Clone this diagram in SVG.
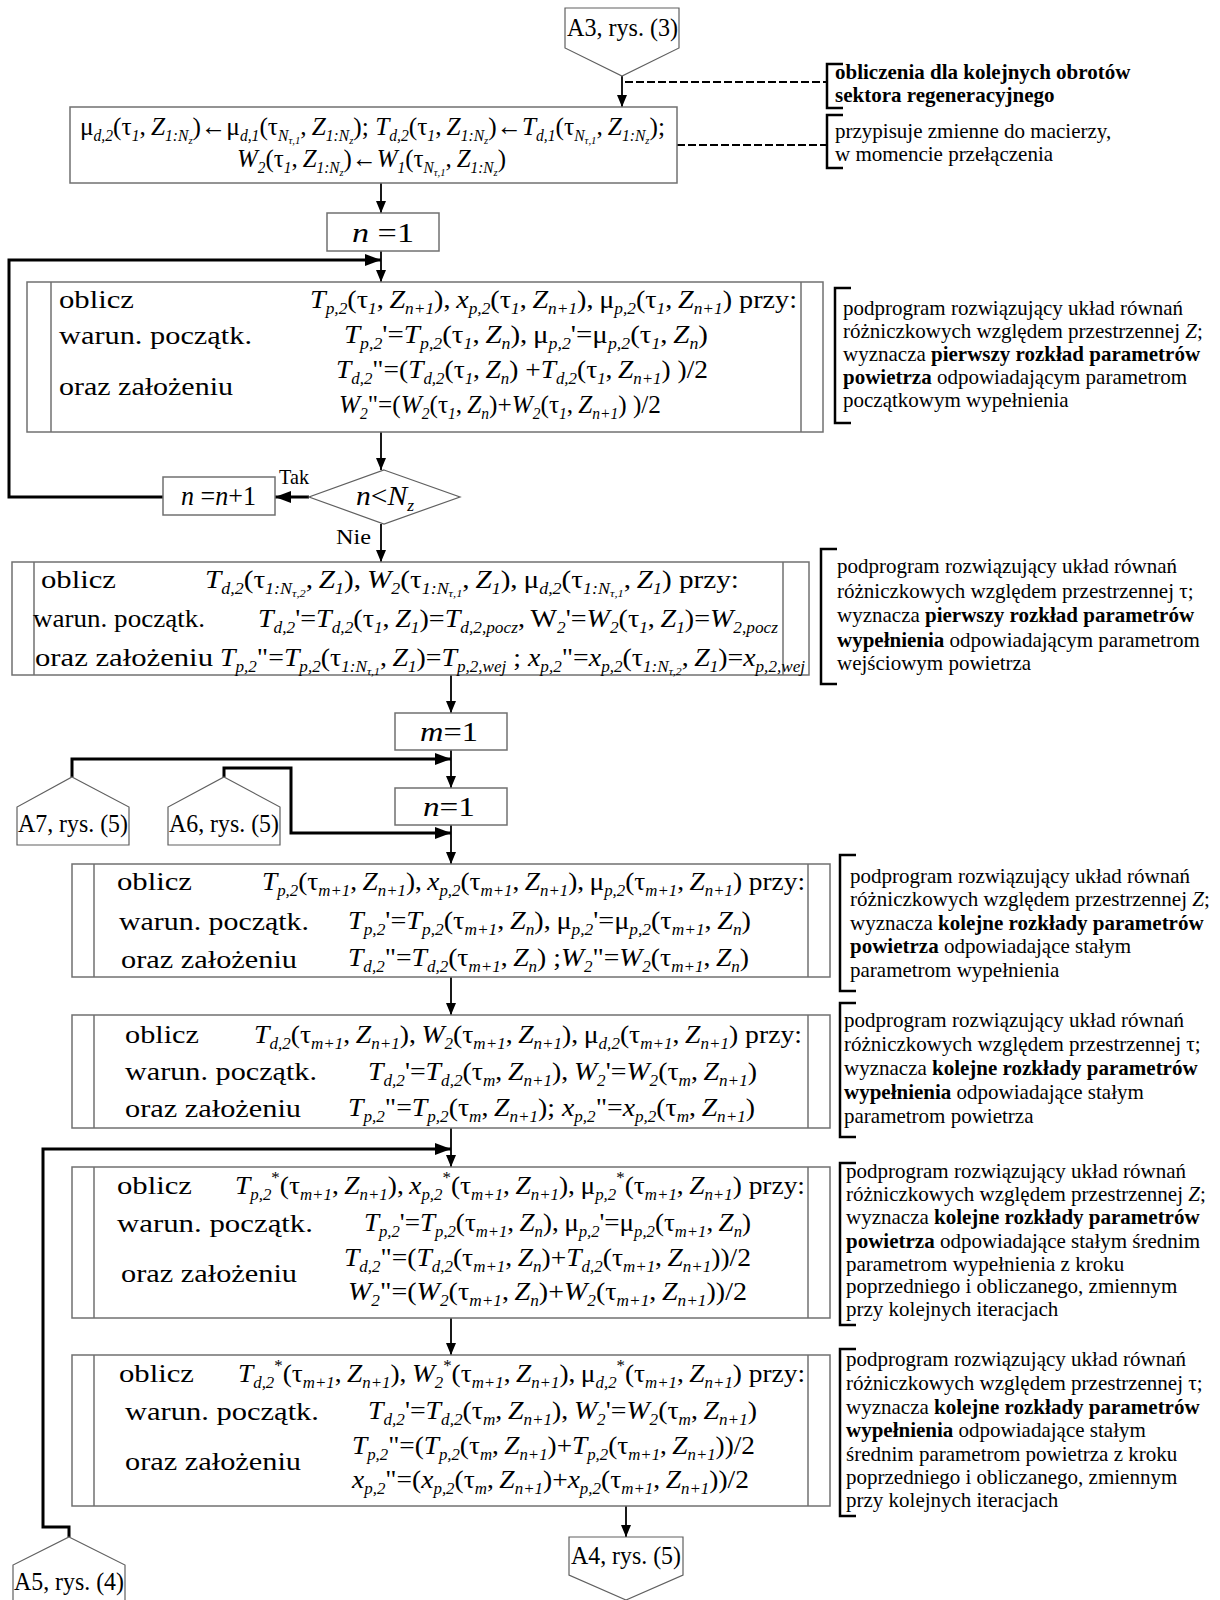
<svg xmlns="http://www.w3.org/2000/svg" width="1220" height="1600" viewBox="0 0 1220 1600">
<style>
.t{font-family:"Liberation Serif","Times New Roman",serif;font-size:26px;fill:#000}
.a{font-family:"Liberation Serif","Times New Roman",serif;font-size:21px;fill:#000}
.g{font-weight:bold}
.i{font-style:italic}
.b{font-size:16px;font-style:italic;baseline-shift:-6px}
.c{font-size:11px;baseline-shift:-3px}
.p{font-size:16px;baseline-shift:11px}
.box{fill:#fff;stroke:#707070;stroke-width:1.5}
.cn{fill:#fff;stroke:#606060;stroke-width:1.2}
.ln{fill:none;stroke:#000;stroke-width:1.8}
.tk{fill:none;stroke:#000;stroke-width:3}
.br{fill:none;stroke:#000;stroke-width:2.5}
.ds{fill:none;stroke:#000;stroke-width:2;stroke-dasharray:8 3}
</style>
<defs>
<marker id="ah" markerUnits="userSpaceOnUse" markerWidth="12" markerHeight="10" refX="12" refY="5" orient="auto"><path d="M0,0 L12,5 L0,10 z" fill="#000"/></marker>
<marker id="ah2" markerUnits="userSpaceOnUse" markerWidth="16" markerHeight="12" refX="16" refY="6" orient="auto"><path d="M0,0 L16,6 L0,12 z" fill="#000"/></marker>
</defs>
<rect width="1220" height="1600" fill="#fff"/>

<g id="connectors">
<line class="ln" x1="622" y1="76" x2="622" y2="107" marker-end="url(#ah)"/>
<line class="ds" x1="625" y1="82" x2="827" y2="82"/>
<line class="ds" x1="677" y1="145" x2="827" y2="145"/>
<line class="ln" x1="381" y1="183" x2="381" y2="213" marker-end="url(#ah)"/>
<line class="ln" x1="381" y1="251" x2="381" y2="282" marker-end="url(#ah)"/>
<path class="tk" d="M163,497 H9 V260 H381" marker-end="url(#ah2)"/>
<line class="ln" x1="381" y1="432" x2="381" y2="470" marker-end="url(#ah)"/>
<line class="tk" x1="309" y1="497" x2="275" y2="497" marker-end="url(#ah2)"/>
<line class="ln" x1="381" y1="524" x2="381" y2="562" marker-end="url(#ah)"/>
<line class="ln" x1="451" y1="675" x2="451" y2="713" marker-end="url(#ah)"/>
<line class="ln" x1="451" y1="750" x2="451" y2="788" marker-end="url(#ah)"/>
<path class="tk" d="M72,777 V759 H451" marker-end="url(#ah2)"/>
<path class="tk" d="M224,777 V768 H291 V833 H451" marker-end="url(#ah2)"/>
<line class="ln" x1="451" y1="825" x2="451" y2="864" marker-end="url(#ah)"/>
<line class="ln" x1="451" y1="977" x2="451" y2="1015" marker-end="url(#ah)"/>
<line class="ln" x1="451" y1="1128" x2="451" y2="1167" marker-end="url(#ah)"/>
<path class="tk" d="M69,1537 V1527 H43 V1149 H451" marker-end="url(#ah2)"/>
<line class="ln" x1="451" y1="1318" x2="451" y2="1355" marker-end="url(#ah)"/>
<line class="ln" x1="626" y1="1506" x2="626" y2="1537" marker-end="url(#ah)"/>
</g>

<g id="A3">
<polygon class="cn" points="565,8 679,8 679,48 622,76 565,48"/>
<text class="t" x="567" y="36" style="font-size:25px" textLength="111" lengthAdjust="spacingAndGlyphs">A3, rys. (3)</text>
</g>

<g id="note1">
<path class="br" d="M843,64 H827 V108 H843"/>
<text class="a g" x="835" y="79">obliczenia dla kolejnych obrotów</text>
<text class="a g" x="835" y="102">sektora regeneracyjnego</text>
</g>

<g id="note2">
<path class="br" d="M843,115 H827 V168 H843"/>
<text class="a" x="835" y="138">przypisuje zmienne do macierzy,</text>
<text class="a" x="835" y="161">w momencie przełączenia</text>
</g>

<g id="box1">
<rect class="box" x="70" y="107" width="607" height="76"/>
<text class="t" x="80" y="135" textLength="585" lengthAdjust="spacingAndGlyphs">μ<tspan class="b">d,2</tspan>(τ<tspan class="b">1</tspan>,&#8201;<tspan class="i">Z</tspan><tspan class="b">1:N<tspan class="c">z</tspan></tspan>)←μ<tspan class="b">d,1</tspan>(τ<tspan class="b">N<tspan class="c">τ,1</tspan></tspan>,&#8201;<tspan class="i">Z</tspan><tspan class="b">1:N<tspan class="c">z</tspan></tspan>); <tspan class="i">T</tspan><tspan class="b">d,2</tspan>(τ<tspan class="b">1</tspan>,&#8201;<tspan class="i">Z</tspan><tspan class="b">1:N<tspan class="c">z</tspan></tspan>)←<tspan class="i">T</tspan><tspan class="b">d,1</tspan>(τ<tspan class="b">N<tspan class="c">τ,1</tspan></tspan>,&#8201;<tspan class="i">Z</tspan><tspan class="b">1:N<tspan class="c">z</tspan></tspan>);</text>
<text class="t" x="237" y="167" textLength="269" lengthAdjust="spacingAndGlyphs"><tspan class="i">W</tspan><tspan class="b">2</tspan>(τ<tspan class="b">1</tspan>,&#8201;<tspan class="i">Z</tspan><tspan class="b">1:N<tspan class="c">z</tspan></tspan>)←<tspan class="i">W</tspan><tspan class="b">1</tspan>(τ<tspan class="b">N<tspan class="c">τ,1</tspan></tspan>,&#8201;<tspan class="i">Z</tspan><tspan class="b">1:N<tspan class="c">z</tspan></tspan>)</text>
</g>

<g id="n1a">
<rect class="box" x="327" y="213" width="112" height="38"/>
<text class="t" x="352" y="242" style="font-size:27px" textLength="62" lengthAdjust="spacingAndGlyphs"><tspan class="i">n</tspan> =1</text>
</g>

<g id="box2">
<rect class="box" x="27" y="282" width="796" height="150"/>
<line class="box" x1="51" y1="282" x2="51" y2="432"/>
<line class="box" x1="801" y1="282" x2="801" y2="432"/>
<text class="t" x="59" y="308" textLength="75" lengthAdjust="spacingAndGlyphs">oblicz</text>
<text class="t" x="59" y="344" textLength="193" lengthAdjust="spacingAndGlyphs">warun. początk.</text>
<text class="t" x="59" y="395" textLength="174" lengthAdjust="spacingAndGlyphs">oraz założeniu</text>
<text class="t" x="310" y="308" textLength="487" lengthAdjust="spacingAndGlyphs"><tspan class="i">T</tspan><tspan class="b">p,2</tspan>(τ<tspan class="b">1</tspan>,&#8201;<tspan class="i">Z</tspan><tspan class="b">n+1</tspan>),&#8201;<tspan class="i">x</tspan><tspan class="b">p,2</tspan>(τ<tspan class="b">1</tspan>,&#8201;<tspan class="i">Z</tspan><tspan class="b">n+1</tspan>),&#8201;μ<tspan class="b">p,2</tspan>(τ<tspan class="b">1</tspan>,&#8201;<tspan class="i">Z</tspan><tspan class="b">n+1</tspan>) przy:</text>
<text class="t" x="344" y="343" textLength="364" lengthAdjust="spacingAndGlyphs"><tspan class="i">T</tspan><tspan class="b">p,2</tspan>'=<tspan class="i">T</tspan><tspan class="b">p,2</tspan>(τ<tspan class="b">1</tspan>,&#8201;<tspan class="i">Z</tspan><tspan class="b">n</tspan>),&#8201;μ<tspan class="b">p,2</tspan>'=μ<tspan class="b">p,2</tspan>(τ<tspan class="b">1</tspan>,&#8201;<tspan class="i">Z</tspan><tspan class="b">n</tspan>)</text>
<text class="t" x="336" y="378" textLength="372" lengthAdjust="spacingAndGlyphs"><tspan class="i">T</tspan><tspan class="b">d,2</tspan>"=(<tspan class="i">T</tspan><tspan class="b">d,2</tspan>(τ<tspan class="b">1</tspan>,&#8201;<tspan class="i">Z</tspan><tspan class="b">n</tspan>) +<tspan class="i">T</tspan><tspan class="b">d,2</tspan>(τ<tspan class="b">1</tspan>,&#8201;<tspan class="i">Z</tspan><tspan class="b">n+1</tspan>) )/2</text>
<text class="t" x="339" y="413" textLength="322" lengthAdjust="spacingAndGlyphs"><tspan class="i">W</tspan><tspan class="b">2</tspan>"=(<tspan class="i">W</tspan><tspan class="b">2</tspan>(τ<tspan class="b">1</tspan>,&#8201;<tspan class="i">Z</tspan><tspan class="b">n</tspan>)+<tspan class="i">W</tspan><tspan class="b">2</tspan>(τ<tspan class="b">1</tspan>,&#8201;<tspan class="i">Z</tspan><tspan class="b">n+1</tspan>) )/2</text>
</g>

<g id="note3">
<path class="br" d="M851,288 H835 V423 H851"/>
<text class="a" x="843" y="315">podprogram rozwiązujący układ równań</text>
<text class="a" x="843" y="338">różniczkowych względem przestrzennej <tspan class="i">Z</tspan>;</text>
<text class="a" x="843" y="361">wyznacza <tspan class="g">pierwszy rozkład parametrów</tspan></text>
<text class="a" x="843" y="384"><tspan class="g">powietrza</tspan> odpowiadającym parametrom</text>
<text class="a" x="843" y="407">początkowym wypełnienia</text>
</g>

<g id="decision">
<polygon class="cn" points="384,470 460,497 384,524 309,497"/>
<text class="t" x="356" y="505" style="font-size:27px" textLength="58" lengthAdjust="spacingAndGlyphs"><tspan class="i">n</tspan>&lt;<tspan class="i">N</tspan><tspan class="b">z</tspan></text>
<text class="t" x="279" y="484" style="font-size:21px" textLength="30" lengthAdjust="spacingAndGlyphs">Tak</text>
<text class="t" x="336" y="544" style="font-size:21px" textLength="35" lengthAdjust="spacingAndGlyphs">Nie</text>
</g>

<g id="nInc">
<rect class="box" x="163" y="477" width="112" height="38"/>
<text class="t" x="181" y="505" style="font-size:27px" textLength="75" lengthAdjust="spacingAndGlyphs"><tspan class="i">n</tspan> =<tspan class="i">n</tspan>+1</text>
</g>

<g id="box3">
<rect class="box" x="12" y="562" width="797" height="113"/>
<line class="box" x1="34" y1="562" x2="34" y2="675"/>
<line class="box" x1="783" y1="562" x2="783" y2="675"/>
<text class="t" x="41" y="588" textLength="75" lengthAdjust="spacingAndGlyphs">oblicz</text>
<text class="t" x="33" y="627" textLength="172" lengthAdjust="spacingAndGlyphs">warun. początk.</text>
<text class="t" x="35" y="666" textLength="178" lengthAdjust="spacingAndGlyphs">oraz założeniu</text>
<text class="t" x="205" y="588" textLength="534" lengthAdjust="spacingAndGlyphs"><tspan class="i">T</tspan><tspan class="b">d,2</tspan>(τ<tspan class="b">1:N<tspan class="c">τ,2</tspan></tspan>,&#8201;<tspan class="i">Z</tspan><tspan class="b">1</tspan>),&#8201;<tspan class="i">W</tspan><tspan class="b">2</tspan>(τ<tspan class="b">1:N<tspan class="c">τ,1</tspan></tspan>,&#8201;<tspan class="i">Z</tspan><tspan class="b">1</tspan>),&#8201;μ<tspan class="b">d,2</tspan>(τ<tspan class="b">1:N<tspan class="c">τ,1</tspan></tspan>,&#8201;<tspan class="i">Z</tspan><tspan class="b">1</tspan>) przy:</text>
<text class="t" x="258" y="627" textLength="520" lengthAdjust="spacingAndGlyphs"><tspan class="i">T</tspan><tspan class="b">d,2</tspan>'=<tspan class="i">T</tspan><tspan class="b">d,2</tspan>(τ<tspan class="b">1</tspan>,&#8201;<tspan class="i">Z</tspan><tspan class="b">1</tspan>)=<tspan class="i">T</tspan><tspan class="b">d,2,pocz</tspan>,&#8201;W<tspan class="b">2</tspan>'=<tspan class="i">W</tspan><tspan class="b">2</tspan>(τ<tspan class="b">1</tspan>,&#8201;<tspan class="i">Z</tspan><tspan class="b">1</tspan>)=<tspan class="i">W</tspan><tspan class="b">2,pocz</tspan></text>
<text class="t" x="220" y="666" textLength="585" lengthAdjust="spacingAndGlyphs"><tspan class="i">T</tspan><tspan class="b">p,2</tspan>"=<tspan class="i">T</tspan><tspan class="b">p,2</tspan>(τ<tspan class="b">1:N<tspan class="c">τ,1</tspan></tspan>,&#8201;<tspan class="i">Z</tspan><tspan class="b">1</tspan>)=<tspan class="i">T</tspan><tspan class="b">p,2,wej</tspan> ; <tspan class="i">x</tspan><tspan class="b">p,2</tspan>"=<tspan class="i">x</tspan><tspan class="b">p,2</tspan>(τ<tspan class="b">1:N<tspan class="c">τ,2</tspan></tspan>,&#8201;<tspan class="i">Z</tspan><tspan class="b">1</tspan>)=<tspan class="i">x</tspan><tspan class="b">p,2,wej</tspan></text>
</g>

<g id="note4">
<path class="br" d="M837,549 H821 V684 H837"/>
<text class="a" x="837" y="573">podprogram rozwiązujący układ równań</text>
<text class="a" x="837" y="598">różniczkowych względem przestrzennej τ;</text>
<text class="a" x="837" y="622">wyznacza <tspan class="g">pierwszy rozkład parametrów</tspan></text>
<text class="a" x="837" y="647"><tspan class="g">wypełnienia</tspan> odpowiadającym parametrom</text>
<text class="a" x="837" y="670">wejściowym powietrza</text>
</g>

<g id="m1">
<rect class="box" x="395" y="713" width="112" height="37"/>
<text class="t" x="420" y="741" style="font-size:27px" textLength="58" lengthAdjust="spacingAndGlyphs"><tspan class="i">m</tspan>=1</text>
</g>

<g id="n1b">
<rect class="box" x="395" y="788" width="112" height="37"/>
<text class="t" x="423" y="816" style="font-size:27px" textLength="52" lengthAdjust="spacingAndGlyphs"><tspan class="i">n</tspan>=1</text>
</g>

<g id="A7">
<polygon class="cn" points="72,777 129,807 129,845 17,845 17,807"/>
<text class="t" x="18" y="832" style="font-size:25px" textLength="110" lengthAdjust="spacingAndGlyphs">A7, rys. (5)</text>
</g>

<g id="A6">
<polygon class="cn" points="224,777 280,807 280,845 168,845 168,807"/>
<text class="t" x="169" y="832" style="font-size:25px" textLength="110" lengthAdjust="spacingAndGlyphs">A6, rys. (5)</text>
</g>

<g id="box4">
<rect class="box" x="72" y="864" width="758" height="113"/>
<line class="box" x1="94" y1="864" x2="94" y2="977"/>
<line class="box" x1="808" y1="864" x2="808" y2="977"/>
<text class="t" x="117" y="890" textLength="75" lengthAdjust="spacingAndGlyphs">oblicz</text>
<text class="t" x="119" y="930" textLength="190" lengthAdjust="spacingAndGlyphs">warun. początk.</text>
<text class="t" x="121" y="968" textLength="176" lengthAdjust="spacingAndGlyphs">oraz założeniu</text>
<text class="t" x="262" y="890" textLength="543" lengthAdjust="spacingAndGlyphs"><tspan class="i">T</tspan><tspan class="b">p,2</tspan>(τ<tspan class="b">m+1</tspan>,&#8201;<tspan class="i">Z</tspan><tspan class="b">n+1</tspan>),&#8201;<tspan class="i">x</tspan><tspan class="b">p,2</tspan>(τ<tspan class="b">m+1</tspan>,&#8201;<tspan class="i">Z</tspan><tspan class="b">n+1</tspan>),&#8201;μ<tspan class="b">p,2</tspan>(τ<tspan class="b">m+1</tspan>,&#8201;<tspan class="i">Z</tspan><tspan class="b">n+1</tspan>) przy:</text>
<text class="t" x="348" y="929" textLength="403" lengthAdjust="spacingAndGlyphs"><tspan class="i">T</tspan><tspan class="b">p,2</tspan>'=<tspan class="i">T</tspan><tspan class="b">p,2</tspan>(τ<tspan class="b">m+1</tspan>,&#8201;<tspan class="i">Z</tspan><tspan class="b">n</tspan>),&#8201;μ<tspan class="b">p,2</tspan>'=μ<tspan class="b">p,2</tspan>(τ<tspan class="b">m+1</tspan>,&#8201;<tspan class="i">Z</tspan><tspan class="b">n</tspan>)</text>
<text class="t" x="348" y="966" textLength="401" lengthAdjust="spacingAndGlyphs"><tspan class="i">T</tspan><tspan class="b">d,2</tspan>"=<tspan class="i">T</tspan><tspan class="b">d,2</tspan>(τ<tspan class="b">m+1</tspan>,&#8201;<tspan class="i">Z</tspan><tspan class="b">n</tspan>) ;<tspan class="i">W</tspan><tspan class="b">2</tspan>"=<tspan class="i">W</tspan><tspan class="b">2</tspan>(τ<tspan class="b">m+1</tspan>,&#8201;<tspan class="i">Z</tspan><tspan class="b">n</tspan>)</text>
</g>

<g id="note5">
<path class="br" d="M856,855 H840 V991 H856"/>
<text class="a" x="850" y="883">podprogram rozwiązujący układ równań</text>
<text class="a" x="850" y="906">różniczkowych względem przestrzennej <tspan class="i">Z</tspan>;</text>
<text class="a" x="850" y="930">wyznacza <tspan class="g">kolejne rozkłady parametrów</tspan></text>
<text class="a" x="850" y="953"><tspan class="g">powietrza</tspan> odpowiadające stałym</text>
<text class="a" x="850" y="977">parametrom wypełnienia</text>
</g>

<g id="box5">
<rect class="box" x="72" y="1015" width="758" height="113"/>
<line class="box" x1="94" y1="1015" x2="94" y2="1128"/>
<line class="box" x1="808" y1="1015" x2="808" y2="1128"/>
<text class="t" x="125" y="1043" textLength="74" lengthAdjust="spacingAndGlyphs">oblicz</text>
<text class="t" x="125" y="1080" textLength="192" lengthAdjust="spacingAndGlyphs">warun. początk.</text>
<text class="t" x="125" y="1117" textLength="176" lengthAdjust="spacingAndGlyphs">oraz założeniu</text>
<text class="t" x="254" y="1043" textLength="548" lengthAdjust="spacingAndGlyphs"><tspan class="i">T</tspan><tspan class="b">d,2</tspan>(τ<tspan class="b">m+1</tspan>,&#8201;<tspan class="i">Z</tspan><tspan class="b">n+1</tspan>),&#8201;<tspan class="i">W</tspan><tspan class="b">2</tspan>(τ<tspan class="b">m+1</tspan>,&#8201;<tspan class="i">Z</tspan><tspan class="b">n+1</tspan>),&#8201;μ<tspan class="b">d,2</tspan>(τ<tspan class="b">m+1</tspan>,&#8201;<tspan class="i">Z</tspan><tspan class="b">n+1</tspan>) przy:</text>
<text class="t" x="368" y="1080" textLength="389" lengthAdjust="spacingAndGlyphs"><tspan class="i">T</tspan><tspan class="b">d,2</tspan>'=<tspan class="i">T</tspan><tspan class="b">d,2</tspan>(τ<tspan class="b">m</tspan>,&#8201;<tspan class="i">Z</tspan><tspan class="b">n+1</tspan>),&#8201;<tspan class="i">W</tspan><tspan class="b">2</tspan>'=<tspan class="i">W</tspan><tspan class="b">2</tspan>(τ<tspan class="b">m</tspan>,&#8201;<tspan class="i">Z</tspan><tspan class="b">n+1</tspan>)</text>
<text class="t" x="348" y="1116" textLength="407" lengthAdjust="spacingAndGlyphs"><tspan class="i">T</tspan><tspan class="b">p,2</tspan>"=<tspan class="i">T</tspan><tspan class="b">p,2</tspan>(τ<tspan class="b">m</tspan>,&#8201;<tspan class="i">Z</tspan><tspan class="b">n+1</tspan>); <tspan class="i">x</tspan><tspan class="b">p,2</tspan>"=<tspan class="i">x</tspan><tspan class="b">p,2</tspan>(τ<tspan class="b">m</tspan>,&#8201;<tspan class="i">Z</tspan><tspan class="b">n+1</tspan>)</text>
</g>

<g id="note6">
<path class="br" d="M856,1003 H840 V1137 H856"/>
<text class="a" x="844" y="1027">podprogram rozwiązujący układ równań</text>
<text class="a" x="844" y="1051">różniczkowych względem przestrzennej τ;</text>
<text class="a" x="844" y="1075">wyznacza <tspan class="g">kolejne rozkłady parametrów</tspan></text>
<text class="a" x="844" y="1099"><tspan class="g">wypełnienia</tspan> odpowiadające stałym</text>
<text class="a" x="844" y="1123">parametrom powietrza</text>
</g>

<g id="box6">
<rect class="box" x="72" y="1167" width="758" height="151"/>
<line class="box" x1="94" y1="1167" x2="94" y2="1318"/>
<line class="box" x1="808" y1="1167" x2="808" y2="1318"/>
<text class="t" x="117" y="1194" textLength="75" lengthAdjust="spacingAndGlyphs">oblicz</text>
<text class="t" x="117" y="1232" textLength="196" lengthAdjust="spacingAndGlyphs">warun. początk.</text>
<text class="t" x="121" y="1282" textLength="176" lengthAdjust="spacingAndGlyphs">oraz założeniu</text>
<text class="t" x="235" y="1194" textLength="570" lengthAdjust="spacingAndGlyphs"><tspan class="i">T</tspan><tspan class="b">p,2</tspan><tspan class="p">*</tspan>(τ<tspan class="b">m+1</tspan>,&#8201;<tspan class="i">Z</tspan><tspan class="b">n+1</tspan>),&#8201;<tspan class="i">x</tspan><tspan class="b">p,2</tspan><tspan class="p">*</tspan>(τ<tspan class="b">m+1</tspan>,&#8201;<tspan class="i">Z</tspan><tspan class="b">n+1</tspan>),&#8201;μ<tspan class="b">p,2</tspan><tspan class="p">*</tspan>(τ<tspan class="b">m+1</tspan>,&#8201;<tspan class="i">Z</tspan><tspan class="b">n+1</tspan>) przy:</text>
<text class="t" x="364" y="1231" textLength="387" lengthAdjust="spacingAndGlyphs"><tspan class="i">T</tspan><tspan class="b">p,2</tspan>'=<tspan class="i">T</tspan><tspan class="b">p,2</tspan>(τ<tspan class="b">m+1</tspan>,&#8201;<tspan class="i">Z</tspan><tspan class="b">n</tspan>),&#8201;μ<tspan class="b">p,2</tspan>'=μ<tspan class="b">p,2</tspan>(τ<tspan class="b">m+1</tspan>,&#8201;<tspan class="i">Z</tspan><tspan class="b">n</tspan>)</text>
<text class="t" x="344" y="1266" textLength="407" lengthAdjust="spacingAndGlyphs"><tspan class="i">T</tspan><tspan class="b">d,2</tspan>"=(<tspan class="i">T</tspan><tspan class="b">d,2</tspan>(τ<tspan class="b">m+1</tspan>,&#8201;<tspan class="i">Z</tspan><tspan class="b">n</tspan>)+<tspan class="i">T</tspan><tspan class="b">d,2</tspan>(τ<tspan class="b">m+1</tspan>,&#8201;<tspan class="i">Z</tspan><tspan class="b">n+1</tspan>))/2</text>
<text class="t" x="348" y="1300" textLength="399" lengthAdjust="spacingAndGlyphs"><tspan class="i">W</tspan><tspan class="b">2</tspan>"=(<tspan class="i">W</tspan><tspan class="b">2</tspan>(τ<tspan class="b">m+1</tspan>,&#8201;<tspan class="i">Z</tspan><tspan class="b">n</tspan>)+<tspan class="i">W</tspan><tspan class="b">2</tspan>(τ<tspan class="b">m+1</tspan>,&#8201;<tspan class="i">Z</tspan><tspan class="b">n+1</tspan>))/2</text>
</g>

<g id="note7">
<path class="br" d="M856,1163 H840 V1325 H856"/>
<text class="a" x="846" y="1178">podprogram rozwiązujący układ równań</text>
<text class="a" x="846" y="1201">różniczkowych względem przestrzennej <tspan class="i">Z</tspan>;</text>
<text class="a" x="846" y="1224">wyznacza <tspan class="g">kolejne rozkłady parametrów</tspan></text>
<text class="a" x="846" y="1248"><tspan class="g">powietrza</tspan> odpowiadające stałym średnim</text>
<text class="a" x="846" y="1271">parametrom wypełnienia z kroku</text>
<text class="a" x="846" y="1293">poprzedniego i obliczanego, zmiennym</text>
<text class="a" x="846" y="1316">przy kolejnych iteracjach</text>
</g>

<g id="box7">
<rect class="box" x="72" y="1355" width="758" height="151"/>
<line class="box" x1="94" y1="1355" x2="94" y2="1506"/>
<line class="box" x1="808" y1="1355" x2="808" y2="1506"/>
<text class="t" x="119" y="1382" textLength="75" lengthAdjust="spacingAndGlyphs">oblicz</text>
<text class="t" x="125" y="1420" textLength="194" lengthAdjust="spacingAndGlyphs">warun. początk.</text>
<text class="t" x="125" y="1470" textLength="176" lengthAdjust="spacingAndGlyphs">oraz założeniu</text>
<text class="t" x="238" y="1382" textLength="567" lengthAdjust="spacingAndGlyphs"><tspan class="i">T</tspan><tspan class="b">d,2</tspan><tspan class="p">*</tspan>(τ<tspan class="b">m+1</tspan>,&#8201;<tspan class="i">Z</tspan><tspan class="b">n+1</tspan>),&#8201;<tspan class="i">W</tspan><tspan class="b">2</tspan><tspan class="p">*</tspan>(τ<tspan class="b">m+1</tspan>,&#8201;<tspan class="i">Z</tspan><tspan class="b">n+1</tspan>),&#8201;μ<tspan class="b">d,2</tspan><tspan class="p">*</tspan>(τ<tspan class="b">m+1</tspan>,&#8201;<tspan class="i">Z</tspan><tspan class="b">n+1</tspan>) przy:</text>
<text class="t" x="368" y="1419" textLength="389" lengthAdjust="spacingAndGlyphs"><tspan class="i">T</tspan><tspan class="b">d,2</tspan>'=<tspan class="i">T</tspan><tspan class="b">d,2</tspan>(τ<tspan class="b">m</tspan>,&#8201;<tspan class="i">Z</tspan><tspan class="b">n+1</tspan>),&#8201;<tspan class="i">W</tspan><tspan class="b">2</tspan>'=<tspan class="i">W</tspan><tspan class="b">2</tspan>(τ<tspan class="b">m</tspan>,&#8201;<tspan class="i">Z</tspan><tspan class="b">n+1</tspan>)</text>
<text class="t" x="352" y="1454" textLength="403" lengthAdjust="spacingAndGlyphs"><tspan class="i">T</tspan><tspan class="b">p,2</tspan>"=(<tspan class="i">T</tspan><tspan class="b">p,2</tspan>(τ<tspan class="b">m</tspan>,&#8201;<tspan class="i">Z</tspan><tspan class="b">n+1</tspan>)+<tspan class="i">T</tspan><tspan class="b">p,2</tspan>(τ<tspan class="b">m+1</tspan>,&#8201;<tspan class="i">Z</tspan><tspan class="b">n+1</tspan>))/2</text>
<text class="t" x="352" y="1488" textLength="397" lengthAdjust="spacingAndGlyphs"><tspan class="i">x</tspan><tspan class="b">p,2</tspan>"=(<tspan class="i">x</tspan><tspan class="b">p,2</tspan>(τ<tspan class="b">m</tspan>,&#8201;<tspan class="i">Z</tspan><tspan class="b">n+1</tspan>)+<tspan class="i">x</tspan><tspan class="b">p,2</tspan>(τ<tspan class="b">m+1</tspan>,&#8201;<tspan class="i">Z</tspan><tspan class="b">n+1</tspan>))/2</text>
</g>

<g id="note8">
<path class="br" d="M856,1349 H840 V1516 H856"/>
<text class="a" x="846" y="1366">podprogram rozwiązujący układ równań</text>
<text class="a" x="846" y="1390">różniczkowych względem przestrzennej τ;</text>
<text class="a" x="846" y="1414">wyznacza <tspan class="g">kolejne rozkłady parametrów</tspan></text>
<text class="a" x="846" y="1437"><tspan class="g">wypełnienia</tspan> odpowiadające stałym</text>
<text class="a" x="846" y="1461">średnim parametrom powietrza z kroku</text>
<text class="a" x="846" y="1484">poprzedniego i obliczanego, zmiennym</text>
<text class="a" x="846" y="1507">przy kolejnych iteracjach</text>
</g>

<g id="A4">
<polygon class="cn" points="569,1537 683,1537 683,1575 626,1600 569,1575"/>
<text class="t" x="571" y="1564" style="font-size:25px" textLength="110" lengthAdjust="spacingAndGlyphs">A4, rys. (5)</text>
</g>

<g id="A5">
<polygon class="cn" points="69,1537 125,1565 125,1605 13,1605 13,1565"/>
<text class="t" x="14" y="1590" style="font-size:25px" textLength="110" lengthAdjust="spacingAndGlyphs">A5, rys. (4)</text>
</g>
</svg>
